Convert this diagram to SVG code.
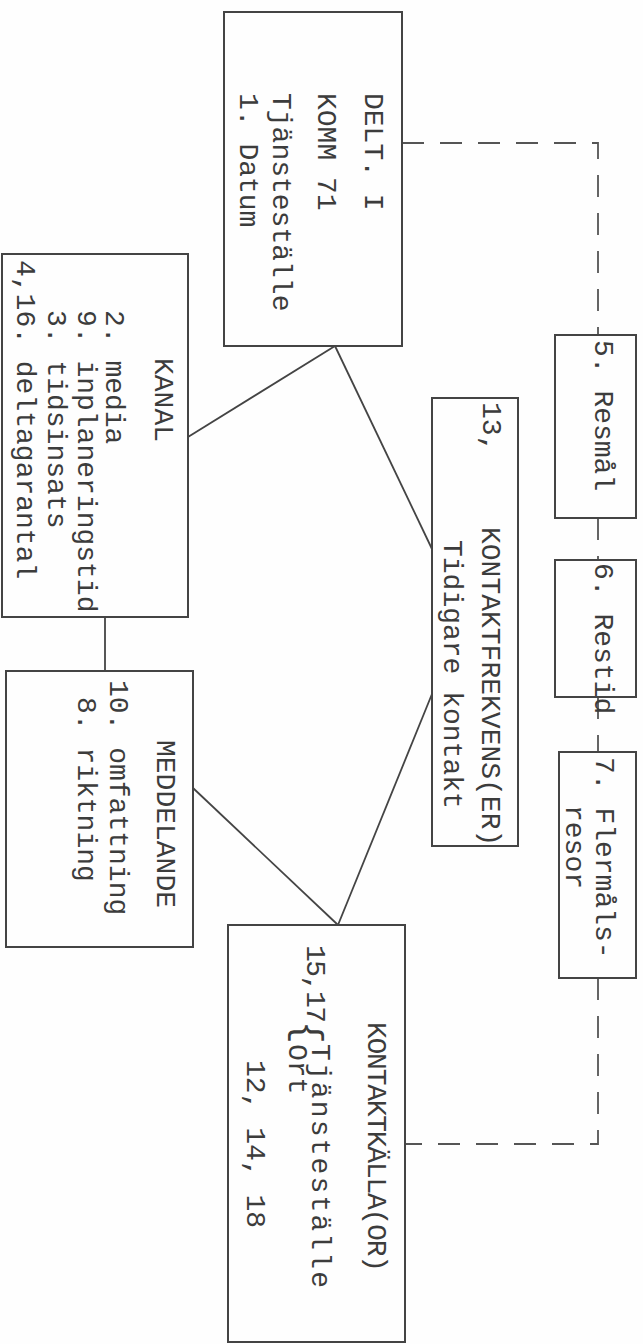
<svg xmlns="http://www.w3.org/2000/svg" width="643" height="1344" viewBox="0 0 643 1344">
<style>
.bg{fill:#fefefe}
.box{fill:none;stroke:#444;stroke-width:2}
.ln{fill:none;stroke:#444;stroke-width:1.8}
.dash{fill:none;stroke:#555;stroke-width:1.8;stroke-dasharray:22 16}
.t{font-family:"Liberation Mono","Courier New",monospace;font-size:28px;fill:#3c3c3c}
</style>
<rect class="bg" x="0" y="0" width="643" height="1344"/>
<g id="connectors">
<polyline class="dash" points="402,143 598,143 598,335"/>
<line class="dash" x1="598" y1="518" x2="598" y2="560"/>
<line class="dash" x1="598" y1="697" x2="598" y2="752"/>
<polyline class="dash" points="598,978 598,1144 405,1144"/>
<line class="ln" x1="335" y1="346" x2="188" y2="437"/>
<line class="ln" x1="335" y1="346" x2="432" y2="549"/>
<line class="ln" x1="193" y1="788" x2="338" y2="925"/>
<line class="ln" x1="432" y1="694" x2="338" y2="925"/>
<line class="ln" x1="105" y1="617" x2="105" y2="671"/>
</g>
<g id="delt">
<rect class="box" x="224" y="12" width="178" height="334"/>
<text class="t" transform="translate(365,93) rotate(90)">DELT. I</text>
<text class="t" transform="translate(318,93) rotate(90)">KOMM 71</text>
<text class="t" transform="translate(273,93) rotate(90)">Tjänsteställe</text>
<text class="t" transform="translate(240,93) rotate(90)">1. Datum</text>
</g>
<g id="kanal">
<rect class="box" x="2" y="254" width="186" height="363"/>
<text class="t" transform="translate(155,358) rotate(90)">KANAL</text>
<text class="t" transform="translate(106,310) rotate(90)">2. media</text>
<text class="t" transform="translate(78,310) rotate(90)">9. inplaneringstid</text>
<text class="t" transform="translate(48,310) rotate(90)">3. tidsinsats</text>
<text class="t" transform="translate(17,260) rotate(90)">4,16. deltagarantal</text>
</g>
<g id="meddelande">
<rect class="box" x="6" y="671" width="187" height="276"/>
<text class="t" transform="translate(157,740) rotate(90)">MEDDELANDE</text>
<text class="t" transform="translate(110,680) rotate(90)">10. omfattning</text>
<text class="t" transform="translate(78,697) rotate(90)">8. riktning</text>
</g>
<g id="kontaktfrekvens">
<rect class="box" x="432" y="398" width="86" height="448"/>
<text class="t" transform="translate(483,402) rotate(90)">13,</text>
<text class="t" transform="translate(482,527) rotate(90)">KONTAKTFREKVENS(ER)</text>
<text class="t" transform="translate(444,540) rotate(90)">Tidigare kontakt</text>
</g>
<g id="resmal">
<rect class="box" x="555" y="335" width="81" height="183"/>
<text class="t" transform="translate(595,340) rotate(90)">5. Resmål</text>
</g>
<g id="restid">
<rect class="box" x="555" y="560" width="81" height="137"/>
<text class="t" transform="translate(595,563) rotate(90)">6. Restid</text>
</g>
<g id="flermals">
<rect class="box" x="559" y="752" width="77" height="226"/>
<text class="t" transform="translate(596,757) rotate(90)">7. Flermåls-</text>
<text class="t" transform="translate(566,805) rotate(90)">resor</text>
</g>
<g id="kontaktkalla">
<rect class="box" x="228" y="925" width="177" height="417"/>
<text class="t" transform="translate(368,1022) rotate(90)" textLength="250" lengthAdjust="spacing">KONTAKTKÄLLA(OR)</text>
<text class="t" transform="translate(307,945) rotate(90)" textLength="78" lengthAdjust="spacing">15,17</text>
<text class="t" style="font-size:38px" transform="translate(296,1021) rotate(90)">{</text>
<text class="t" transform="translate(312,1044) rotate(90)" textLength="244" lengthAdjust="spacing">Tjänsteställe</text>
<text class="t" transform="translate(289,1044) rotate(90)">Ort</text>
<text class="t" transform="translate(247,1060) rotate(90)">12, 14, 18</text>
</g>
</svg>
